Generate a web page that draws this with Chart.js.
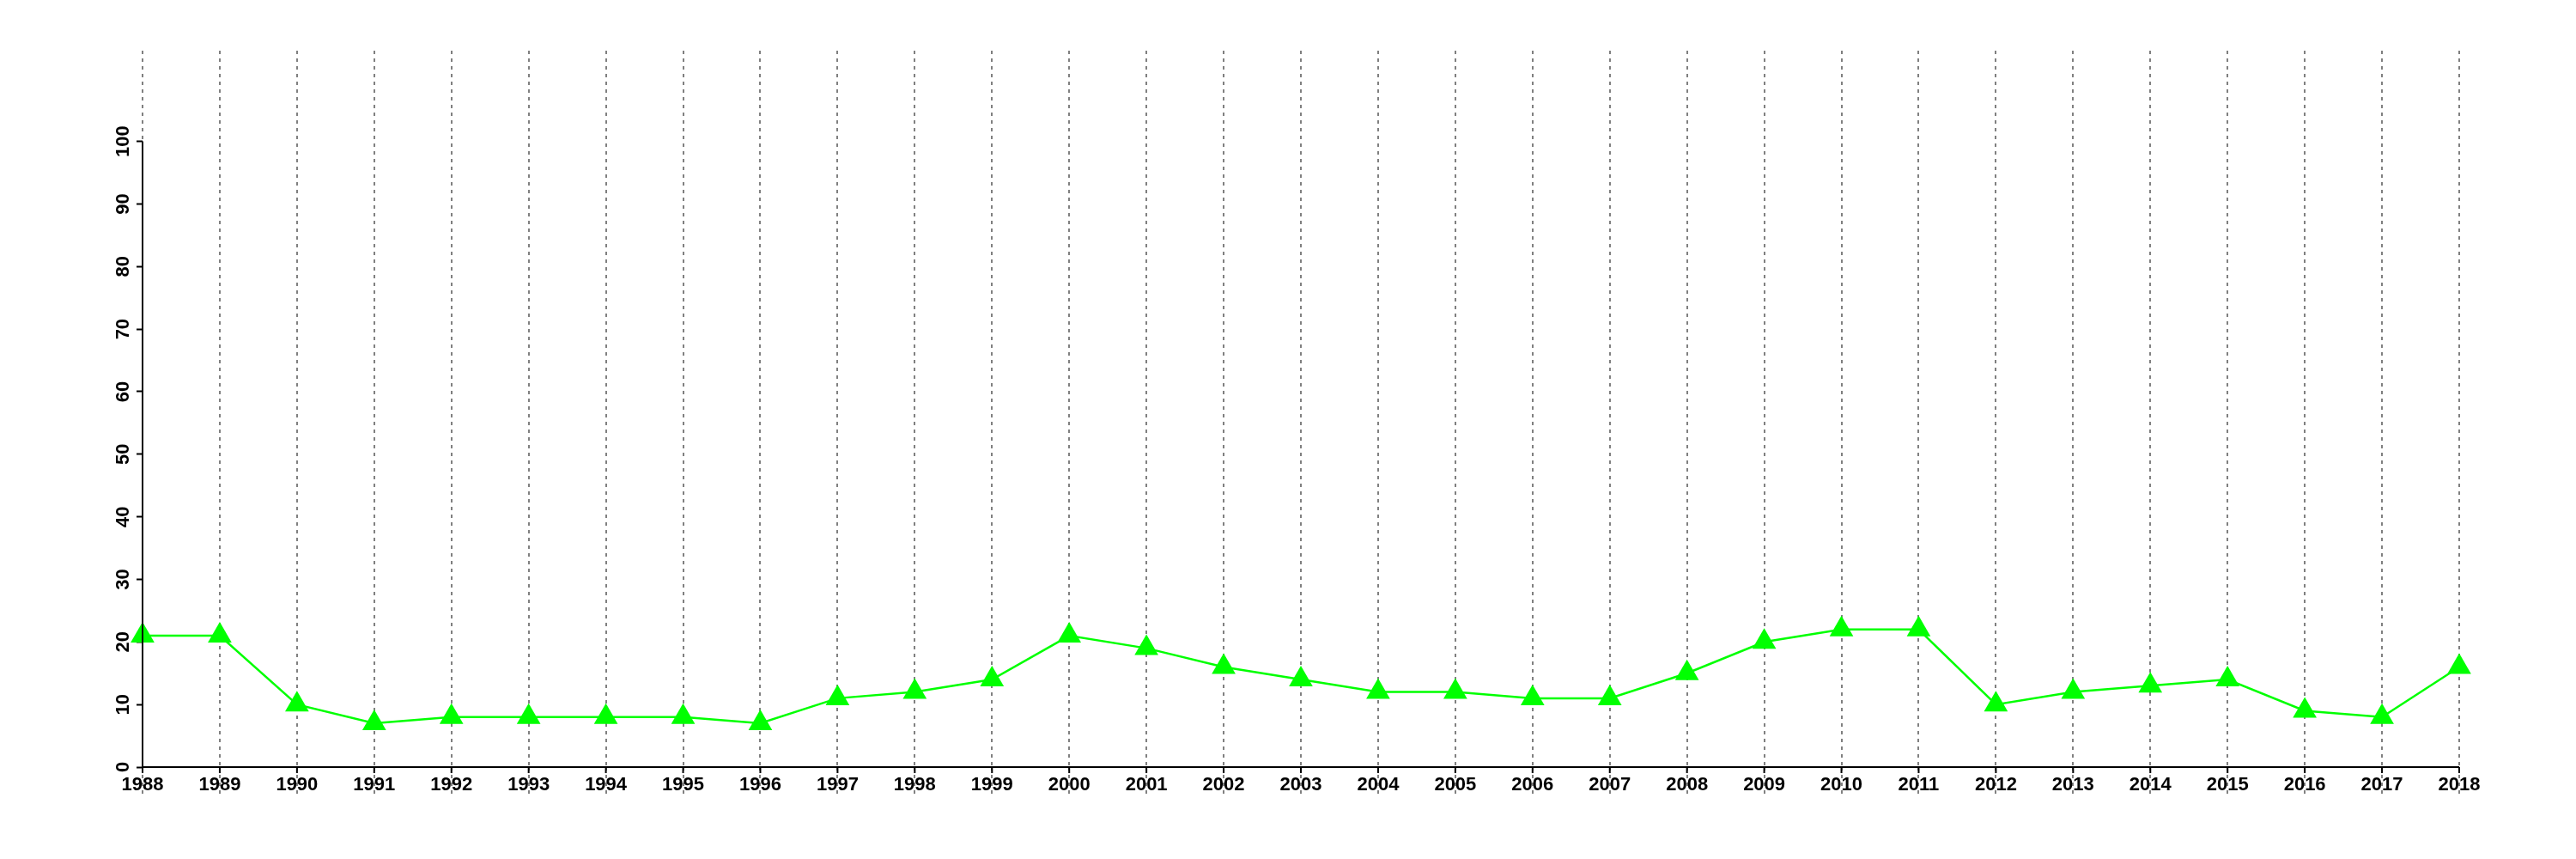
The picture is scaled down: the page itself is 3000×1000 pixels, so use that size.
<!DOCTYPE html>
<html>
<head>
<meta charset="utf-8">
<script src="https://cdn.jsdelivr.net/npm/chart.js"></script>
<style>
  html, body { margin: 0; padding: 0; background: #ffffff; }
  #wrap { width: 3000px; height: 1000px; }
</style>
</head>
<body>
<div id="wrap"><canvas id="chart" width="3000" height="1000"></canvas></div>
<script>
// Data
const years = ["1988", "1989", "1990", "1991", "1992", "1993", "1994", "1995", "1996", "1997",
  "1998", "1999", "2000", "2001", "2002", "2003", "2004", "2005", "2006", "2007",
  "2008", "2009", "2010", "2011", "2012", "2013", "2014", "2015", "2016", "2017", "2018"];
const values = [21, 21, 10, 7, 8, 8, 8, 8, 7, 11,
  12, 14, 21, 19, 16, 14, 12, 12, 11, 11,
  15, 20, 22, 22, 10, 12, 13, 14, 9, 8, 16];
const yTicks = [0, 10, 20, 30, 40, 50, 60, 70, 80, 90, 100];

const labelFont = { family: "'Liberation Sans', Arial, sans-serif", size: 22, weight: "bold" };

// R-style axes: x line across the data range, y line only from 0 to 100,
// plus the short black ticks under the x axis
const axisPlugin = {
  id: "axisPlugin",
  afterDraw(chart) {
    const ctx = chart.ctx;
    const x = chart.scales.x;
    const y = chart.scales.y;
    ctx.save();
    ctx.setLineDash([]);
    ctx.strokeStyle = "#000000";
    ctx.lineWidth = 2;
    ctx.beginPath();
    ctx.moveTo(x.left, y.getPixelForValue(yTicks[0]));
    ctx.lineTo(x.left, y.getPixelForValue(yTicks[yTicks.length - 1]));
    ctx.moveTo(x.getPixelForValue(0), x.top);
    ctx.lineTo(x.getPixelForValue(years.length - 1), x.top);
    years.forEach((yr, i) => {
      const px = x.getPixelForValue(i);
      ctx.moveTo(px, x.top);
      ctx.lineTo(px, x.top + 7);
    });
    ctx.stroke();
    ctx.restore();
  }
};

new Chart(document.getElementById("chart"), {
  type: "line",
  data: {
    labels: years,
    datasets: [{
      data: values,
      borderColor: "#00ff00",
      backgroundColor: "#00ff00",
      borderWidth: 2.5,
      pointStyle: "triangle",
      pointRadius: 16,
      pointHoverRadius: 16,
      pointBorderWidth: 0,
      pointBackgroundColor: "#00ff00",
      tension: 0
    }]
  },
  options: {
    responsive: false,
    animation: false,
    devicePixelRatio: 1,
    layout: { padding: { left: 106, right: 136, top: 59, bottom: 57 } },
    plugins: {
      legend: { display: false },
      tooltip: { enabled: false }
    },
    scales: {
      x: {
        type: "category",
        offset: false,
        afterFit(scale) { scale.height = 50; },
        grid: {
          display: true,
          drawOnChartArea: true,
          drawTicks: true,
          tickLength: 35,
          color: "#808080",
          lineWidth: 2,
          borderDash: [4, 5],
          tickColor: "#808080",
          tickWidth: 2,
          tickBorderDash: [4, 5]
        },
        border: { display: false, dash: [4, 5] },
        ticks: {
          autoSkip: false,
          maxRotation: 0,
          minRotation: 0,
          padding: -27,
          color: "#000000",
          font: labelFont
        }
      },
      y: {
        type: "linear",
        min: 0,
        max: 114.5,
        afterFit(scale) { scale.width = 60; },
        afterBuildTicks(scale) { scale.ticks = yTicks.map(v => ({ value: v })); },
        grid: {
          display: true,
          drawOnChartArea: false,
          drawTicks: true,
          tickLength: 7,
          color: "#000000",
          tickColor: "#000000",
          tickWidth: 2
        },
        border: { display: false },
        ticks: {
          minRotation: 90,
          maxRotation: 90,
          crossAlign: "center",
          padding: -3,
          color: "#000000",
          font: labelFont
        }
      }
    }
  },
  plugins: [axisPlugin]
});
</script>
</body>
</html>
